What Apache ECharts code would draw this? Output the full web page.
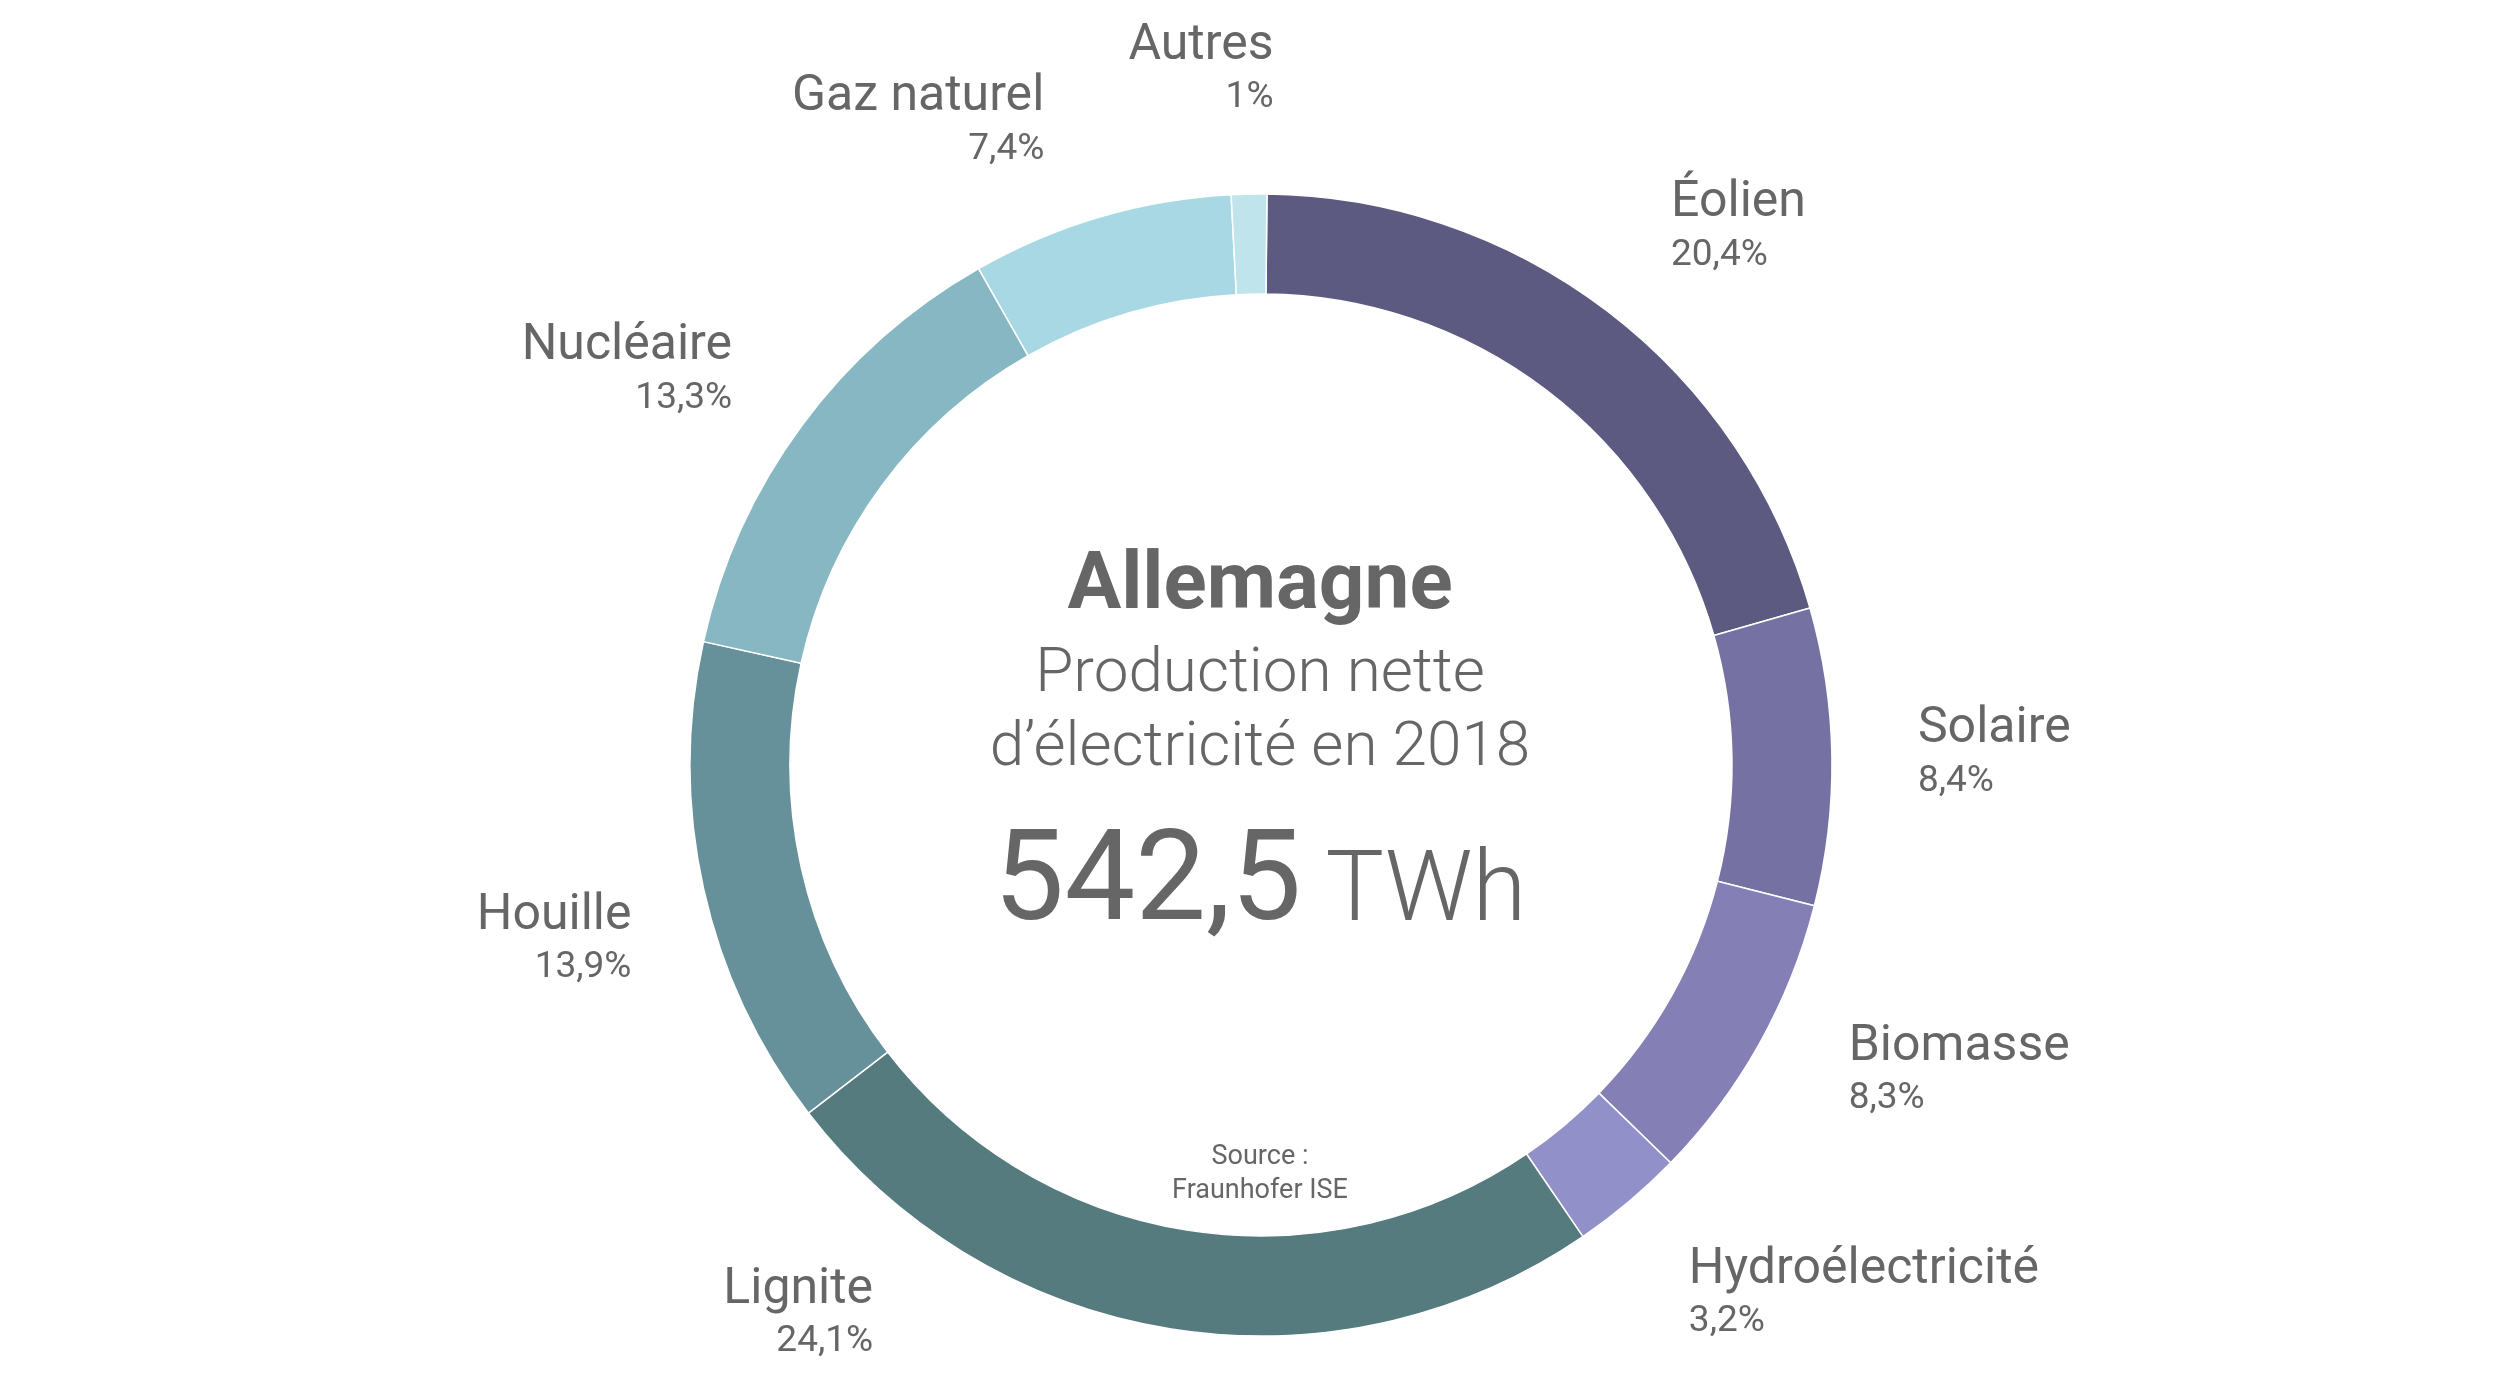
<!DOCTYPE html>
<html>
<head>
<meta charset="utf-8">
<script src="https://cdn.jsdelivr.net/npm/echarts@6/dist/echarts.min.js"></script>
<style>
  html, body { margin: 0; padding: 0; background: #fff; }
  #chart { width: 2500px; height: 1394px; }
</style>
</head>
<body>
<div id="chart"></div>
<script>
// production nette d'électricité, Allemagne 2018 (parts en %)
const sources = ['Éolien', 'Solaire', 'Biomasse', 'Hydroélectricité', 'Lignite', 'Houille', 'Nucléaire', 'Gaz naturel', 'Autres'];
const shares = [20.4, 8.4, 8.3, 3.2, 24.1, 13.9, 13.3, 7.4, 1];
const colors = ['#5c5a80', '#7572a3', '#8480b6', '#9290c8', '#567b7f', '#66919a', '#87b7c2', '#a8d8e3', '#c0e4eb'];

const country = 'Allemagne';
const subtitle = ['Production nette', 'd’électricité en 2018'];
const total = '542,5';
const unit = 'TWh';
const sourceNote = ['Source :', 'Fraunhofer ISE'];

// longueurs des traits (invisibles) qui placent chaque étiquette : [length, length2]
const labelTune = [[102, -3], [86, -5], [60, 32], [123, -24], [-13, 295], [245, -172], [90, -8], [97, 24], [122, -32]];

const textColor = '#666666';
const cx = 1261, cy = 765;
const textX = 1260;

const chart = echarts.init(document.getElementById('chart'));

const option = {
  backgroundColor: '#ffffff',
  animation: false,
  textStyle: { fontFamily: 'Roboto' },
  series: [{
    type: 'pie',
    left: 0, top: 0, right: 0, bottom: 0,
    center: [cx, cy],
    radius: [471, 571],
    startAngle: 89.4,
    clockwise: true,
    avoidLabelOverlap: false,
    itemStyle: { borderColor: '#ffffff', borderWidth: 1.5 },
    label: {
      show: true,
      position: 'outside',
      color: textColor,
      formatter: function (p) {
        return '{n|' + p.name + '}\n{p|' + String(p.value).replace('.', ',') + '%}';
      },
      rich: {
        n: { fontSize: 50, lineHeight: 52, color: textColor, fontFamily: 'Roboto' },
        p: { fontSize: 37, lineHeight: 52, color: textColor, fontFamily: 'Roboto' }
      }
    },
    labelLine: { show: false },
    emphasis: { disabled: true },
    data: sources.map((s, i) => ({
      name: s,
      value: shares[i],
      itemStyle: { color: colors[i] },
      labelLine: { show: false, length: labelTune[i][0], length2: labelTune[i][1] }
    }))
  }],
  graphic: [
    {
      type: 'text', x: textX, y: 588,
      style: { text: country, fontFamily: 'Roboto', fontSize: 80, fontWeight: 'bold', fill: textColor,
               align: 'center', verticalAlign: 'middle' }
    },
    {
      type: 'text', x: textX, y: 675,
      style: { text: subtitle[0], fontFamily: 'Roboto', fontSize: 62, fontWeight: 300, fill: textColor,
               align: 'center', verticalAlign: 'middle' }
    },
    {
      type: 'text', x: textX, y: 749,
      style: { text: subtitle[1], fontFamily: 'Roboto', fontSize: 62, fontWeight: 300, fill: textColor,
               align: 'center', verticalAlign: 'middle' }
    },
    {
      type: 'text', x: textX, y: 880,
      style: {
        text: '{a|' + total + '}{b| ' + unit + '}',
        fontFamily: 'Roboto', fontSize: 98, fill: textColor,
        align: 'center', verticalAlign: 'middle',
        rich: {
          a: { fontSize: 126, fontFamily: 'Roboto', fill: textColor, verticalAlign: 'bottom', lineHeight: 140 },
          b: { fontSize: 98, fontFamily: 'Roboto', fontWeight: 300, fill: textColor, verticalAlign: 'bottom',
               lineHeight: 140, padding: [0, 0, 6, 0] }
        }
      }
    },
    {
      type: 'text', x: textX, y: 1157,
      style: { text: sourceNote[0], fontFamily: 'Roboto', fontSize: 27, fill: textColor,
               align: 'center', verticalAlign: 'middle' }
    },
    {
      type: 'text', x: textX, y: 1191,
      style: { text: sourceNote[1], fontFamily: 'Roboto', fontSize: 27, fill: textColor,
               align: 'center', verticalAlign: 'middle' }
    }
  ]
};

chart.setOption(option);
</script>
</body>
</html>
